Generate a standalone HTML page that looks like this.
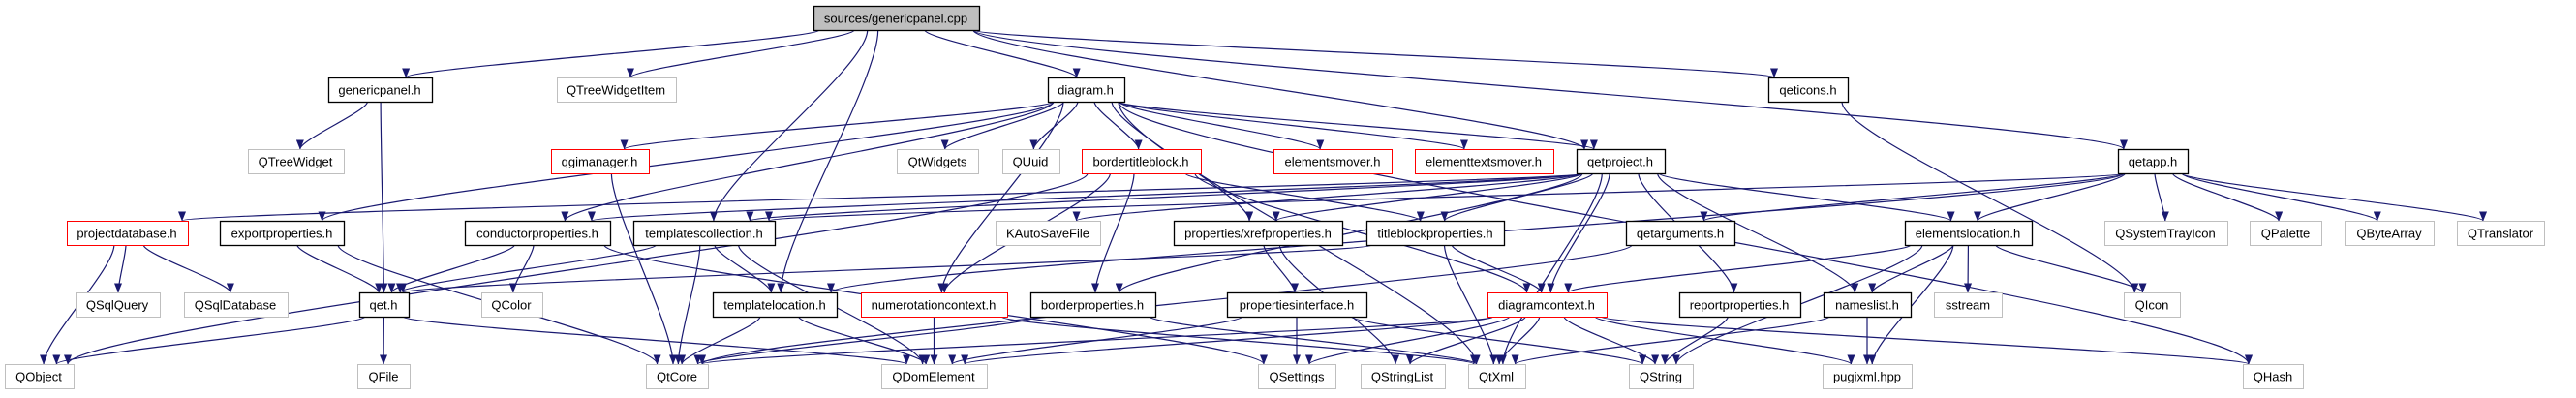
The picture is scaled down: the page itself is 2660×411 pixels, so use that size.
<!DOCTYPE html>
<html><head><meta charset="utf-8"><style>
html,body{margin:0;padding:0;background:#fff;}
svg{display:block;}
.t text{font-family:"Liberation Sans",sans-serif;font-size:13px;fill:#000;text-anchor:middle;dominant-baseline:central;}
.e{stroke:#191970;stroke-width:1.2;fill:none;}
</style></head><body>
<svg id="g" width="2660" height="411" viewBox="0 0 2660 411" xmlns="http://www.w3.org/2000/svg">
<defs><marker id="a" markerWidth="10" markerHeight="8" refX="9.5" refY="4" orient="auto" markerUnits="userSpaceOnUse"><path d="M0,0 L10,4 L0,8 z" fill="#191970"/></marker></defs>
<g id="edges"></g>
<g id="nodes"></g>
<g class="t">
<text x="925" y="19">sources/genericpanel.cpp</text>
<text x="392" y="93">genericpanel.h</text>
<text x="636" y="93">QTreeWidgetItem</text>
<text x="1121" y="93">diagram.h</text>
<text x="1867" y="93">qeticons.h</text>
<text x="305" y="167">QTreeWidget</text>
<text x="619" y="167">qgimanager.h</text>
<text x="968" y="167">QtWidgets</text>
<text x="1064" y="167">QUuid</text>
<text x="1178" y="167">bordertitleblock.h</text>
<text x="1376" y="167">elementsmover.h</text>
<text x="1532" y="167">elementtextsmover.h</text>
<text x="1673" y="167">qetproject.h</text>
<text x="2223" y="167">qetapp.h</text>
<text x="131" y="241">projectdatabase.h</text>
<text x="291" y="241">exportproperties.h</text>
<text x="555" y="241">conductorproperties.h</text>
<text x="727" y="241">templatescollection.h</text>
<text x="1082" y="241">KAutoSaveFile</text>
<text x="1299" y="241">properties/xrefproperties.h</text>
<text x="1482" y="241">titleblockproperties.h</text>
<text x="1735" y="241">qetarguments.h</text>
<text x="2032" y="241">elementslocation.h</text>
<text x="2236" y="241">QSystemTrayIcon</text>
<text x="2360" y="241">QPalette</text>
<text x="2467" y="241">QByteArray</text>
<text x="2582" y="241">QTranslator</text>
<text x="121" y="315">QSqlQuery</text>
<text x="243" y="315">QSqlDatabase</text>
<text x="396" y="315">qet.h</text>
<text x="528" y="315">QColor</text>
<text x="800" y="315">templatelocation.h</text>
<text x="964" y="315">numerotationcontext.h</text>
<text x="1128" y="315">borderproperties.h</text>
<text x="1339" y="315">propertiesinterface.h</text>
<text x="1597" y="315">diagramcontext.h</text>
<text x="1796" y="315">reportproperties.h</text>
<text x="1928" y="315">nameslist.h</text>
<text x="2032" y="315">sstream</text>
<text x="2222" y="315">QIcon</text>
<text x="40" y="389">QObject</text>
<text x="396" y="389">QFile</text>
<text x="699" y="389">QtCore</text>
<text x="964" y="389">QDomElement</text>
<text x="1339" y="389">QSettings</text>
<text x="1448" y="389">QStringList</text>
<text x="1545" y="389">QtXml</text>
<text x="1715" y="389">QString</text>
<text x="1928" y="389">pugixml.hpp</text>
<text x="2347" y="389">QHash</text>
</g>
</svg>
<script>
var R=[6,80,154,228,302,376],H=25;
var N={
root:[840,1011,0,'g'],gp:[339,446,1,'b'],qtwi:[575,698,1,'x'],diag:[1082,1161,1,'b'],qeticons:[1826,1908,1,'b'],
qtw:[256,355,2,'x'],qgim:[569,670,2,'r'],qtwid:[926,1010,2,'x'],quuid:[1035,1094,2,'x'],btb:[1117,1240,2,'r'],
emov:[1315,1437,2,'r'],etmov:[1461,1604,2,'r'],qetp:[1628,1719,2,'b'],qetapp:[2187,2259,2,'b'],
pdb:[69,194,3,'r'],exp:[227,355,3,'b'],cond:[480,630,3,'b'],tcol:[654,800,3,'b'],kasf:[1028,1136,3,'x'],
xref:[1212,1386,3,'b'],tbp:[1411,1553,3,'b'],qarg:[1679,1791,3,'b'],eloc:[1967,2098,3,'b'],qsti:[2173,2300,3,'x'],
qpal:[2323,2397,3,'x'],qba:[2421,2513,3,'x'],qtr:[2537,2627,3,'x'],
qsq:[78,165,4,'x'],qsd:[190,297,4,'x'],qet:[371,422,4,'b'],qcol:[497,560,4,'x'],tloc:[736,864,4,'b'],
num:[889,1040,4,'r'],bprop:[1064,1193,4,'b'],pint:[1267,1411,4,'b'],dctx:[1536,1659,4,'r'],rep:[1734,1859,4,'b'],
nl:[1883,1973,4,'b'],sst:[1997,2067,4,'x'],qicon:[2193,2251,4,'x'],
qobj:[5,76,5,'x'],qfile:[369,423,5,'x'],qtcore:[667,731,5,'x'],qdom:[910,1019,5,'x'],qset:[1299,1379,5,'x'],
qsl:[1405,1492,5,'x'],qtxml:[1516,1575,5,'x'],qstr:[1682,1748,5,'x'],pugi:[1882,1974,5,'x'],qhash:[2316,2378,5,'x']
};
var E=[['root','gp'],['root','qtwi'],['root','diag'],['root','tcol'],['root','tloc'],['root','qetp'],['root','qeticons'],['root','qetapp'],
['gp','qtw'],['gp','qet'],
['diag','exp'],['diag','qgim'],['diag','cond'],['diag','qtwid'],['diag','quuid'],['diag','btb'],['diag','num'],['diag','xref'],['diag','emov'],['diag','etmov'],['diag','qetp'],['diag','qhash'],['diag','qtxml'],
['qgim','qtcore'],
['btb','qobj'],['btb','num'],['btb','bprop'],['btb','tbp'],['btb','dctx'],
['qetp','pdb'],['qetp','tcol'],['qetp','cond'],['qetp','kasf'],['qetp','xref'],['qetp','tbp'],['qetp','bprop'],['qetp','eloc'],['qetp','nl'],['qetp','rep'],['qetp','qtxml'],['qetp','dctx'],
['qetapp','qarg'],['qetapp','eloc'],['qetapp','qsti'],['qetapp','qpal'],['qetapp','qba'],['qetapp','qtr'],['qetapp','tloc'],['qetapp','tcol'],['qeticons','qicon'],
['eloc','dctx'],['eloc','nl'],['eloc','sst'],['eloc','qicon'],['eloc','pugi'],['eloc','qstr'],
['pdb','qobj'],['pdb','qsq'],['pdb','qsd'],
['exp','qet'],['exp','qtcore'],
['cond','qet'],['cond','qcol'],['cond','qset'],
['tcol','qet'],['tcol','tloc'],['tcol','qtcore'],['tcol','qdom'],
['tloc','qtcore'],['tloc','qdom'],
['num','qdom'],['num','qtxml'],
['bprop','qtcore'],['bprop','qtxml'],
['xref','pint'],['xref','qsl'],
['pint','qset'],['pint','qdom'],['pint','qstr'],
['tbp','dctx'],['tbp','qtxml'],['tbp','qet'],
['qarg','qtcore'],
['dctx','qset'],['dctx','qsl'],['dctx','qtxml'],['dctx','qstr'],['dctx','pugi'],['dctx','qdom'],['dctx','qhash'],['dctx','qtcore'],
['rep','qstr'],['nl','qtxml'],['nl','pugi'],
['qet','qobj'],['qet','qfile'],['qet','qdom']];
var ns='http://www.w3.org/2000/svg',eg=document.getElementById('edges'),ng=document.getElementById('nodes');
E.forEach(function(e){var s=N[e[0]],t=N[e[1]];
 var sx=(s[0]+s[1])/2,sy=R[s[2]]+H,tx=(t[0]+t[1])/2,ty=R[t[2]];
 var dx=tx-sx;
 sx=Math.max(s[0]+6,Math.min(s[1]-6,sx+dx*0.15));
 tx=Math.max(t[0]+6,Math.min(t[1]-6,tx-dx*0.05));
 var p=document.createElementNS(ns,'path');
 p.setAttribute('d','M'+sx+','+sy+' C'+sx+','+(sy+(ty-sy)*0.2)+' '+tx+','+(ty-(ty-sy)*0.2)+' '+tx+','+ty);
 p.setAttribute('class','e');p.setAttribute('marker-end','url(#a)');eg.appendChild(p);});
for(var k in N){var n=N[k];var r=document.createElementNS(ns,'rect');
 r.setAttribute('x',n[0]+.5);r.setAttribute('y',R[n[2]]+.5);r.setAttribute('width',n[1]-n[0]);r.setAttribute('height',H);
 var c=n[3];r.setAttribute('fill',c=='g'?'#bfbfbf':'#fff');
 r.setAttribute('stroke',c=='r'?'#ff0000':(c=='x'?'#bfbfbf':'#000'));r.setAttribute('stroke-width',c=='b'||c=='g'?1.3:1);
 ng.appendChild(r);}
</script>
</body></html>
